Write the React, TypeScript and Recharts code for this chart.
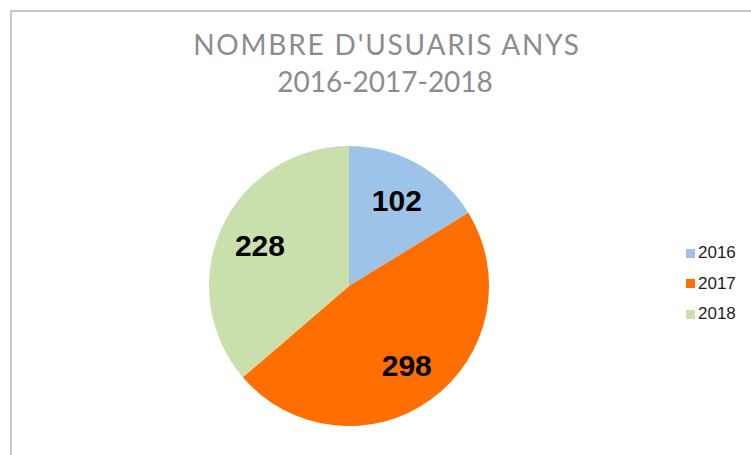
import React from "react";
import { PieChart, Pie, Cell, Legend } from "recharts";

const years = ["2016", "2017", "2018"];
const users = [102, 298, 228];
const sliceColors = ["#9dc3e8", "#ff6e00", "#c9e0ad"];

const titleLines = ["NOMBRE D'USUARIS ANYS", "2016-2017-2018"];

const data = years.map((y, i) => ({ year: y, users: users[i] }));

const RAD = Math.PI / 180;

// eslint-disable-next-line @typescript-eslint/no-explicit-any
function SliceLabel({ cx, cy, midAngle, outerRadius, value }: any) {
  const r = outerRadius * 0.7;
  const x = cx + r * Math.cos(-midAngle * RAD);
  const y = cy + r * Math.sin(-midAngle * RAD);
  return (
    <text
      x={x}
      y={y}
      textAnchor="middle"
      dominantBaseline="central"
      fill="#000"
      fontSize={30}
      fontWeight="bold"
      fontFamily="'Liberation Sans', Arial, sans-serif"
    >
      {value}
    </text>
  );
}

// eslint-disable-next-line @typescript-eslint/no-explicit-any
function LegendList({ payload }: any) {
  return (
    <div style={{ fontFamily: "'Liberation Sans', Arial, sans-serif" }}>
      {(payload ?? []).map((p: any) => (
        <div
          key={p.value}
          style={{
            display: "flex",
            alignItems: "center",
            height: 30.5,
            fontSize: 17,
            color: "#1e1e1e",
          }}
        >
          <span
            style={{
              display: "inline-block",
              width: 9,
              height: 9,
              background: p.color,
              marginRight: 3,
            }}
          />
          {p.value}
        </div>
      ))}
    </div>
  );
}

export default function App() {
  return (
    <div
      style={{
        position: "absolute",
        left: 0,
        top: 0,
        width: 751,
        height: 455,
        background: "#fff",
        overflow: "hidden",
      }}
    >
      <div
        style={{
          position: "absolute",
          left: 10,
          top: 10,
          width: 760,
          height: 460,
          borderTop: "2px solid #c6c6c6",
          borderLeft: "2px solid #c6c6c6",
          boxSizing: "border-box",
        }}
      />
      <svg
        width={751}
        height={110}
        style={{ position: "absolute", left: 0, top: 0 }}
      >
        <text
          x={387}
          y={55}
          textAnchor="middle"
          fill="#8c8c8c"
          fontSize={28}
          letterSpacing={1.8}
          fontFamily="Lato, 'Open Sans', sans-serif"
        >
          {titleLines[0]}
        </text>
        <text
          x={385}
          y={92}
          textAnchor="middle"
          fill="#8c8c8c"
          fontSize={28}
          fontFamily="Lato, 'Open Sans', sans-serif"
        >
          {titleLines[1]}
        </text>
      </svg>
      <div style={{ position: "absolute", left: 0, top: 0 }}>
        <PieChart width={751} height={455}>
          <Pie
            data={data}
            dataKey="users"
            nameKey="year"
            cx={344}
            cy={281}
            outerRadius={140}
            startAngle={90}
            endAngle={-270}
            stroke="none"
            label={SliceLabel}
            labelLine={false}
            isAnimationActive={false}
          >
            {data.map((d, i) => (
              <Cell key={d.year} fill={sliceColors[i]} />
            ))}
          </Pie>
          <Legend
            layout="vertical"
            content={LegendList}
            wrapperStyle={{ position: "absolute", left: 686, top: 238, width: 70 }}
          />
        </PieChart>
      </div>
    </div>
  );
}
